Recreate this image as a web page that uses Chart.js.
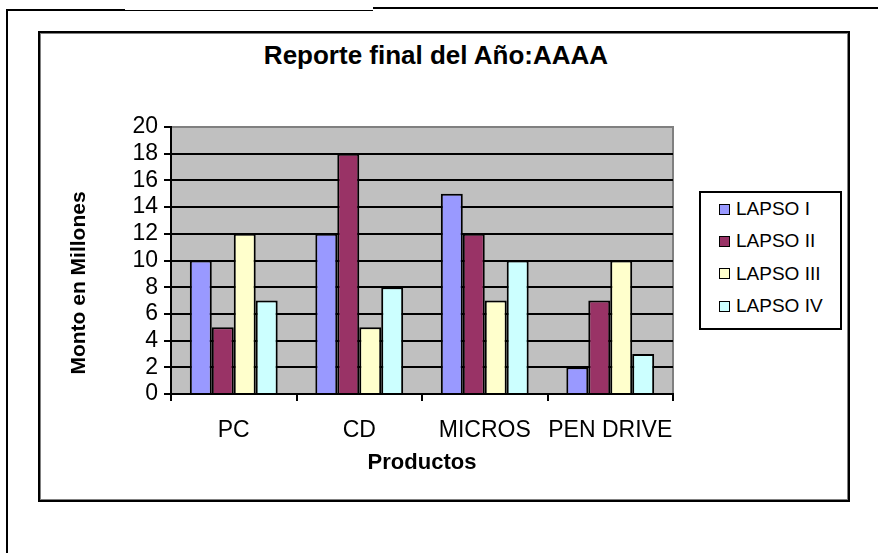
<!DOCTYPE html>
<html lang="es">
<head>
<meta charset="utf-8">
<title>Reporte final del Año</title>
<script src="https://cdn.jsdelivr.net/npm/chart.js@4.4.1/dist/chart.umd.min.js"></script>
<style>
    html, body { margin: 0; padding: 0; background: #fff; }
    body { width: 878px; height: 553px; position: relative; overflow: hidden; font-family: Arial, "Liberation Sans", sans-serif; }
    .linea { position: absolute; background: #000; }
    #cajaGrafico {
        position: absolute; left: 38px; top: 31px; width: 812px; height: 471px;
        box-sizing: border-box; border: 2px solid #000;
        box-shadow: inset 0 0 0 1px #808080;
    }
    #titulo {
        position: absolute; left: 30px; top: 40px; width: 812px; text-align: center;
        font-weight: bold; font-size: 26px; line-height: 30px; color: #000;
    }
    #tituloY {
        position: absolute; left: -72px; top: 270px; width: 300px; height: 26px; line-height: 26px;
        text-align: center; font-weight: bold; font-size: 21px; color: #000;
        transform: rotate(-90deg);
    }
    #areaCanvas { position: absolute; left: 60px; top: 100px; width: 640px; height: 380px; }
    #leyenda {
        position: absolute; left: 699px; top: 191px; width: 143px; height: 139px;
        box-sizing: border-box; border: 2px solid #000; background: #fff;
    }
    #leyenda ul { list-style: none; margin: 0; padding: 0; }
    #leyenda li { display: flex; align-items: center; height: 32.3px; font-size: 19px; color: #000; }
    #leyenda .cuadro { width: 9px; height: 9px; border: 1px solid #000; margin-left: 18px; margin-right: 6px; }
</style>
</head>
<body>
    <!-- Marco exterior -->
    <div class="linea" style="left:6px; top:9px; width:119px; height:2px;"></div>
    <div class="linea" style="left:125px; top:10px; width:248px; height:1px;"></div>
    <div class="linea" style="left:373px; top:7px; width:505px; height:2px;"></div>
    <div class="linea" style="left:6px; top:9px; width:2px; height:544px;"></div>

    <div id="cajaGrafico"></div>
    <div id="titulo">Reporte final del Año:AAAA</div>
    <div id="areaCanvas"><canvas id="grafico" width="640" height="380"></canvas></div>
    <div id="tituloY">Monto en Millones</div>
    <div id="leyenda"><ul id="leyendaItems"></ul></div>

<script>
// Datos del grafico
const productos = ['PC', 'CD', 'MICROS', 'PEN DRIVE'];
const lapsos = ['LAPSO I', 'LAPSO II', 'LAPSO III', 'LAPSO IV'];
const lapsoI = [10, 12, 15, 2];
const lapsoII = [5, 18, 12, 7];
const lapsoIII = [12, 5, 7, 10];
const lapsoIV = [7, 8, 10, 3];
const yMin = 0;
const yMax = 20;
const yPaso = 2;

// Colores de cada lapso
const colores = ['#9999FF', '#993366', '#FFFFCC', '#CCFFFF'];

const fuente = 'Arial, "Liberation Sans", sans-serif';

// Plugin para el fondo gris del area de trazado
const fondoPlot = {
    id: 'fondoPlot',
    beforeDraw(chart) {
        const { ctx, chartArea: a } = chart;
        ctx.save();
        ctx.fillStyle = '#C0C0C0';
        ctx.fillRect(a.left, a.top, a.width, a.height);
        ctx.strokeStyle = '#808080';
        ctx.lineWidth = 2;
        ctx.strokeRect(a.left, a.top, a.width, a.height);
        ctx.restore();
    }
};

const series = [lapsoI, lapsoII, lapsoIII, lapsoIV];

const ctx = document.getElementById('grafico').getContext('2d');
const grafico = new Chart(ctx, {
    type: 'bar',
    data: {
        labels: productos,
        datasets: series.map((valores, i) => ({
            label: lapsos[i],
            data: valores,
            backgroundColor: colores[i],
            borderColor: '#000',
            borderWidth: 2,
            categoryPercentage: 0.7,
            barPercentage: 1.0
        }))
    },
    options: {
        responsive: false,
        animation: false,
        layout: { padding: { left: 0, top: 27, right: 27, bottom: 0 } },
        plugins: {
            legend: { display: false },
            title: { display: false },
            tooltip: { enabled: false }
        },
        scales: {
            x: {
                afterFit: (scale) => { scale.height = 86; },
                grid: {
                    drawOnChartArea: false,
                    drawTicks: true,
                    tickLength: 7,
                    tickColor: '#000',
                    tickWidth: 2,
                    color: '#000',
                    lineWidth: 2
                },
                border: { display: true, color: '#000', width: 2 },
                ticks: {
                    autoSkip: false,
                    maxRotation: 0,
                    minRotation: 0,
                    color: '#000',
                    padding: 16,
                    font: { family: fuente, size: 23 }
                },
                title: {
                    display: true,
                    text: 'Productos',
                    color: '#000',
                    padding: { top: 0, bottom: 4 },
                    font: { family: fuente, size: 22, weight: 'bold' }
                }
            },
            y: {
                min: yMin,
                max: yMax,
                afterFit: (scale) => { scale.width = 111; },
                grid: {
                    color: (c) => (c.tick && c.tick.value === yMax ? '#808080' : '#000'),
                    lineWidth: 2,
                    drawTicks: true,
                    tickLength: 7,
                    tickColor: '#000',
                    tickWidth: 2
                },
                border: { display: true, color: '#000', width: 2 },
                ticks: {
                    stepSize: yPaso,
                    autoSkip: false,
                    color: '#000',
                    padding: 6,
                    font: { family: fuente, size: 23 }
                },
                title: { display: false }
            }
        }
    },
    plugins: [fondoPlot]
});

// Leyenda en HTML a partir de los datasets
const leyendaItems = document.getElementById('leyendaItems');
leyendaItems.innerHTML = grafico.data.datasets.map(ds => `
    <li><span class="cuadro" style="background:${ds.backgroundColor}"></span><span>${ds.label}</span></li>
`).join('');
</script>
</body>
</html>
